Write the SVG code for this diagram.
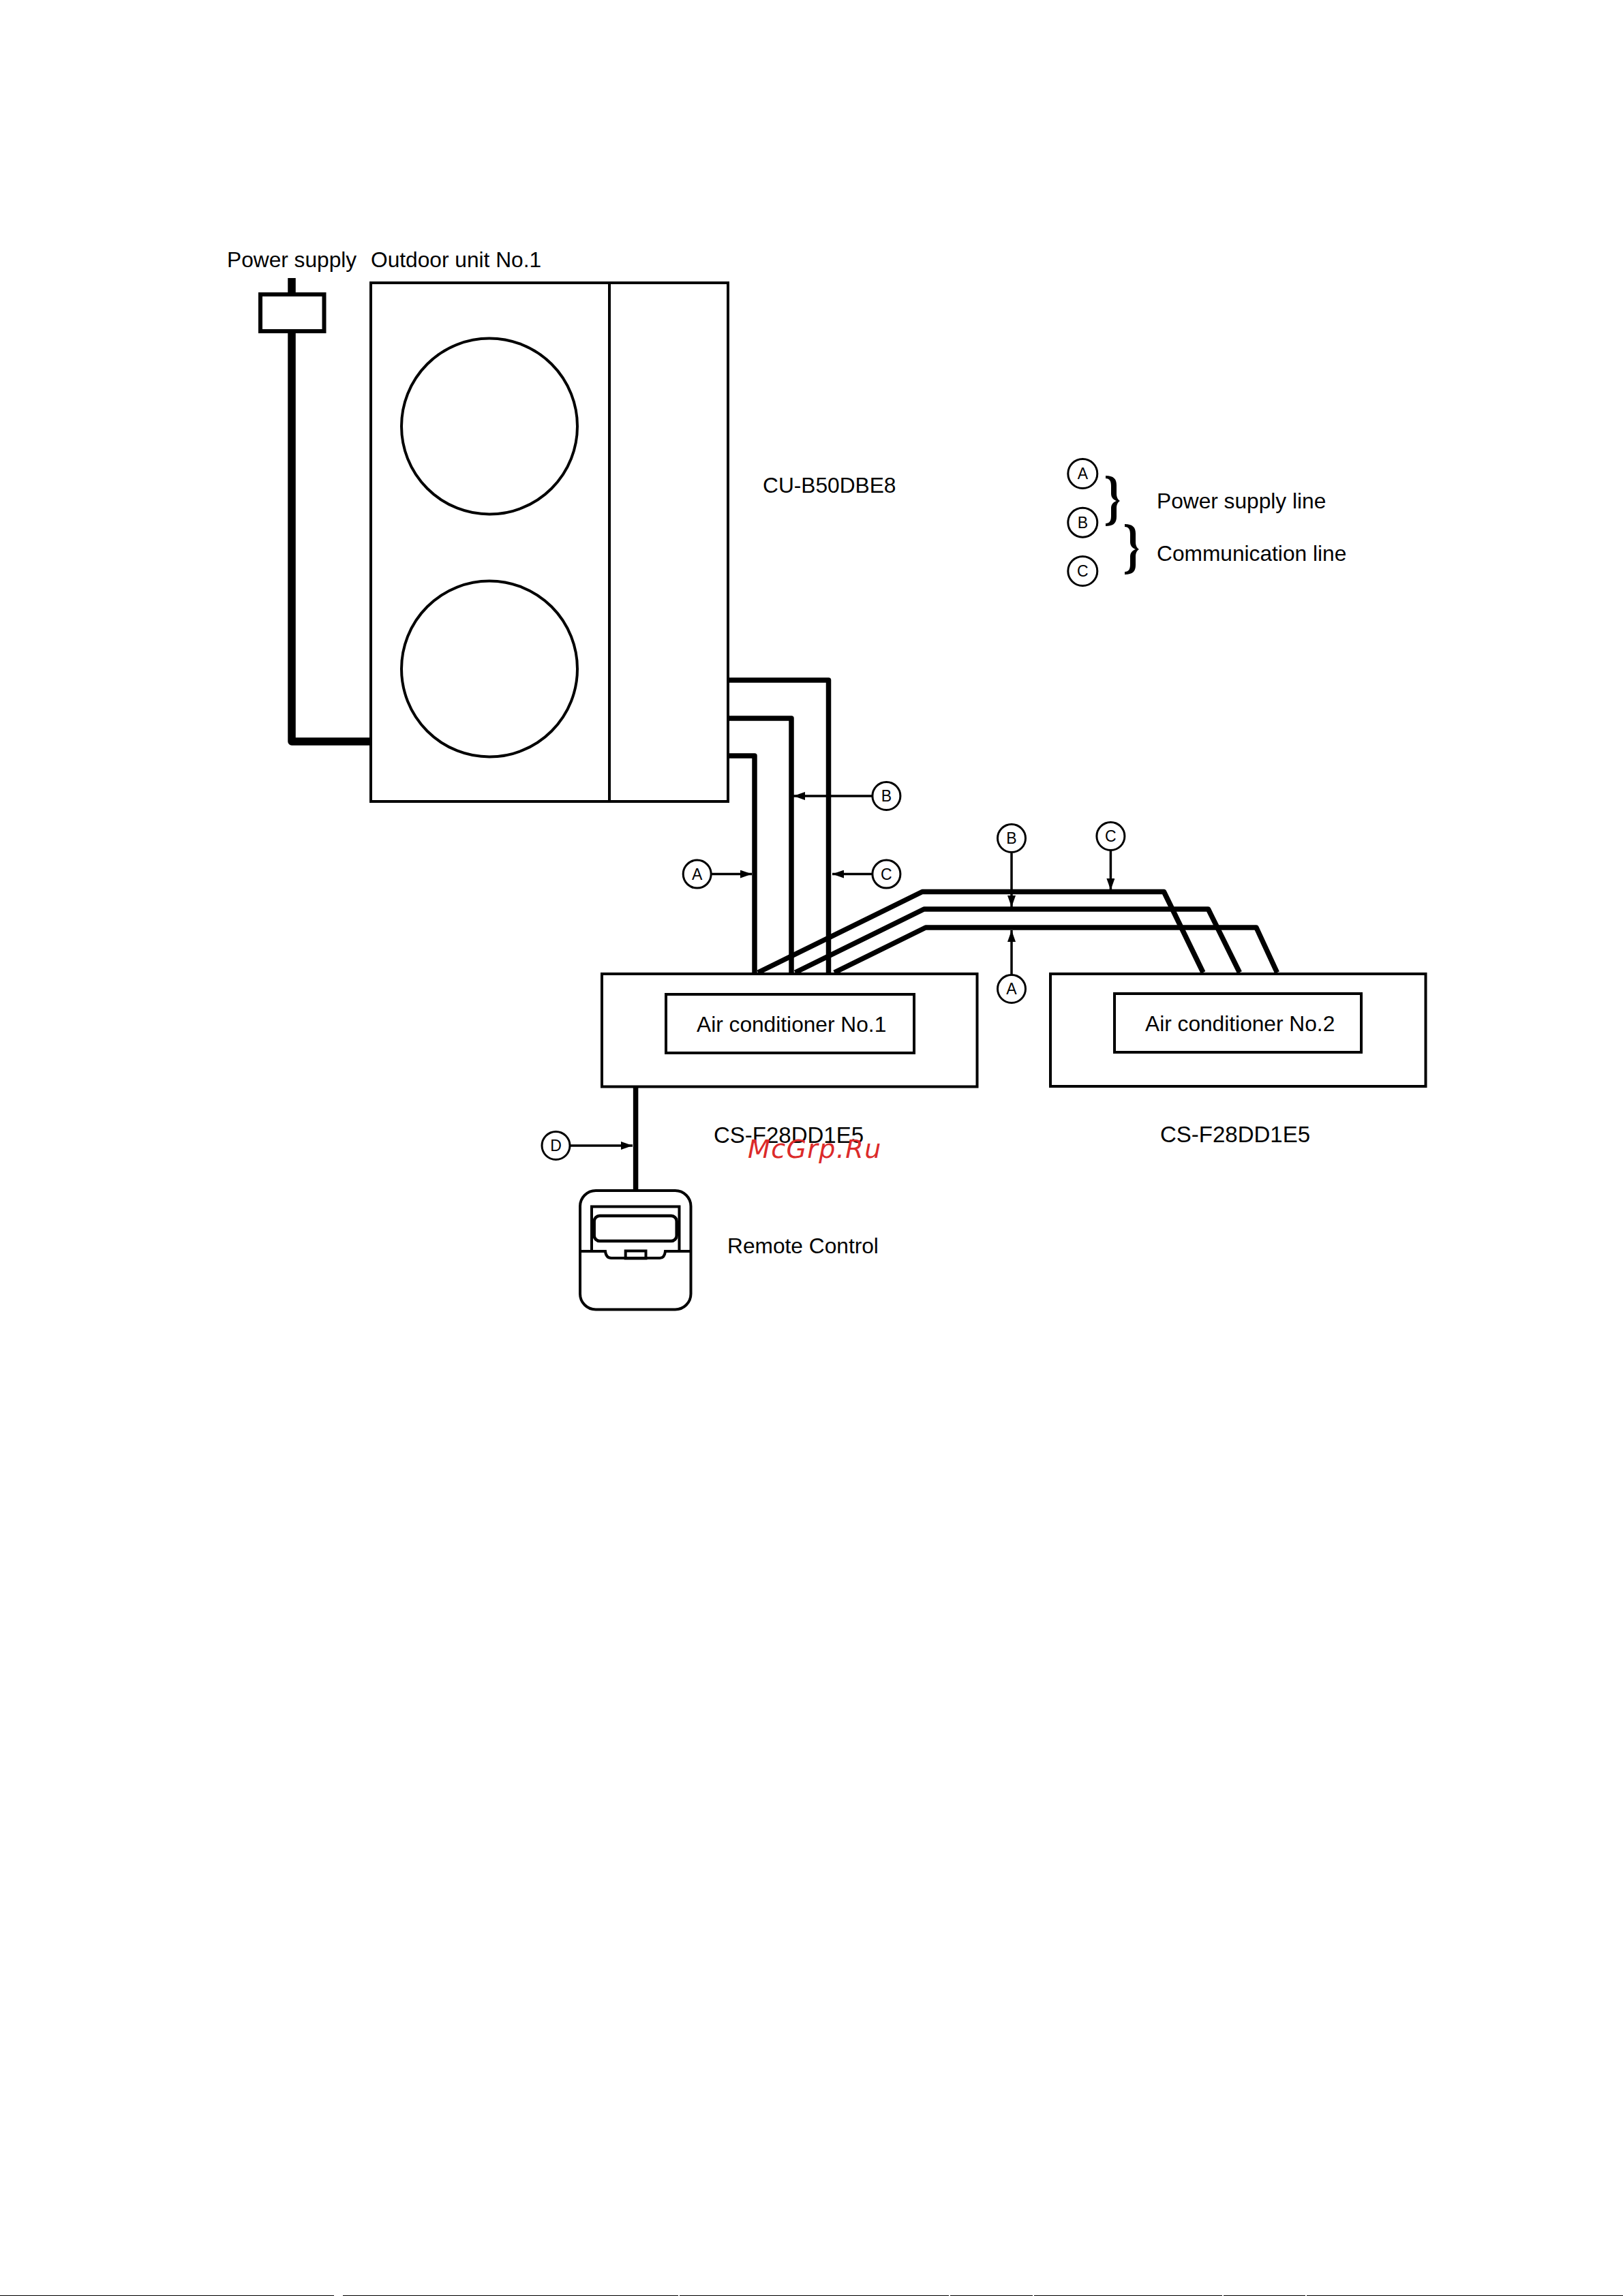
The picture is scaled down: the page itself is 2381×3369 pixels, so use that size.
<svg xmlns="http://www.w3.org/2000/svg" width="2381" height="3369" viewBox="0 0 2381 3369">
<style>
text{font-family:"Liberation Sans",Arial,sans-serif;font-size:31.7px;fill:#000}
.lbl{font-size:23px;text-anchor:middle}
.cs{font-size:33px}
.box{fill:#fff;stroke:#000;stroke-width:4}
.thin{fill:none;stroke:#000;stroke-width:4}
.wire{fill:none;stroke:#000;stroke-width:7.5;stroke-linejoin:round}
.lead{fill:none;stroke:#000;stroke-width:3.5;marker-end:url(#ah)}
.circ{fill:#fff;stroke:#000;stroke-width:3}
.wm{font-family:"DejaVu Sans",sans-serif;font-size:38px;font-style:italic;fill:#dc2a2a;letter-spacing:1.4px}
</style>
<defs>
<marker id="ah" markerUnits="userSpaceOnUse" markerWidth="17" markerHeight="12" refX="17" refY="6" orient="auto"><path d="M0 0L17 6L0 12Z" fill="#000"/></marker>
<path id="brace" d="M1622 698C1634 698 1638 703 1638 712V724C1638 730 1640 733 1643 735C1640 737 1638 740 1638 746V758C1638 767 1634 772 1622 772V768C1628 768 1630 764 1630 757V746C1630 740 1633 737 1638 735C1633 733 1630 730 1630 724V713C1630 706 1628 702 1622 702Z" fill="#000"/>
</defs>
<rect width="2381" height="3369" fill="#fff"/>
<g id="connectors">
<path class="wire" style="stroke-width:11.5" d="M428 408V1088H544"/>
<path class="wire" d="M1068 998H1215.5V1428"/>
<path class="wire" d="M1068 1054H1161V1428"/>
<path class="wire" d="M1068 1109H1107V1428"/>
<path class="wire" d="M1112 1427L1353 1308.5H1707.5L1765 1427"/>
<path class="wire" d="M1166.5 1427L1355.5 1334H1772.5L1818.5 1427"/>
<path class="wire" d="M1224 1427L1358 1361H1843L1873.5 1427"/>
<path class="wire" d="M932.6 1594V1746"/>
<path class="lead" d="M1280 1168H1164"/>
<path class="lead" d="M1280 1282.6H1221"/>
<path class="lead" d="M1043 1282.6H1103"/>
<path class="lead" d="M1484 1252V1331"/>
<path class="lead" d="M1629.4 1248V1306"/>
<path class="lead" d="M1484 1430V1365"/>
<path class="lead" d="M836 1681H928"/>
</g>
<g id="power-supply">
<text x="333" y="392">Power supply</text>
<rect x="382" y="432" width="93.5" height="54" fill="#fff" stroke="#000" stroke-width="6"/>
</g>
<g id="outdoor-unit">
<text x="544" y="392">Outdoor unit No.1</text>
<rect class="thin" x="544" y="415" width="524" height="761"/>
<path class="thin" d="M894 415V1176"/>
<circle class="thin" cx="718" cy="625.5" r="129"/>
<circle class="thin" cx="718" cy="981.5" r="129"/>
<text x="1119" y="723">CU-B50DBE8</text>
</g>
<g id="air-conditioner-1">
<rect class="box" x="883" y="1429" width="550.5" height="165.5"/>
<rect class="box" x="977" y="1459" width="364" height="86"/>
<text x="1022" y="1514">Air conditioner No.1</text>
<text class="cs" x="1047" y="1677">CS-F28DD1E5</text>
</g>
<g id="air-conditioner-2">
<rect class="box" x="1541" y="1429" width="550.5" height="165"/>
<rect class="box" x="1635" y="1458" width="362" height="86"/>
<text x="1680" y="1513">Air conditioner No.2</text>
<text class="cs" x="1702" y="1676">CS-F28DD1E5</text>
</g>
<g id="remote-control">
<rect class="thin" x="851" y="1747" width="162.5" height="174.5" rx="23"/>
<path class="thin" d="M868 1836V1770.4H996.5V1836"/>
<rect fill="none" stroke="#000" stroke-width="4.5" x="871.7" y="1784" width="121" height="37" rx="8"/>
<path class="thin" d="M852 1836H888Q889 1846 897 1846H968Q975 1846 976 1836H1012.6"/>
<rect class="thin" x="917.7" y="1835.5" width="29.8" height="11"/>
<text x="1067" y="1839">Remote Control</text>
</g>
<g id="callouts">
<g id="callout-b1"><circle class="circ" cx="1300.4" cy="1168" r="20.5"/><text class="lbl" x="1300.4" y="1176">B</text></g>
<g id="callout-c1"><circle class="circ" cx="1300.4" cy="1282.6" r="20.5"/><text class="lbl" x="1300.4" y="1290.6">C</text></g>
<g id="callout-a1"><circle class="circ" cx="1022.7" cy="1282.6" r="20.5"/><text class="lbl" x="1022.7" y="1290.6">A</text></g>
<g id="callout-b2"><circle class="circ" cx="1484" cy="1230" r="20.5"/><text class="lbl" x="1484" y="1238">B</text></g>
<g id="callout-c2"><circle class="circ" cx="1629.4" cy="1227" r="20.5"/><text class="lbl" x="1629.4" y="1235">C</text></g>
<g id="callout-a2"><circle class="circ" cx="1484" cy="1451" r="20.5"/><text class="lbl" x="1484" y="1459">A</text></g>
<g id="callout-d"><circle class="circ" cx="815.5" cy="1681" r="20.5"/><text class="lbl" x="815.5" y="1689">D</text></g>
</g>
<g id="legend">
<circle class="circ" cx="1588.3" cy="695" r="21.5"/><text class="lbl" x="1588.3" y="703">A</text>
<circle class="circ" cx="1588.3" cy="766.7" r="21.5"/><text class="lbl" x="1588.3" y="774.7">B</text>
<circle class="circ" cx="1588.3" cy="838" r="21.5"/><text class="lbl" x="1588.3" y="846">C</text>
<use href="#brace"/>
<use href="#brace" x="28" y="71"/>
<text x="1697" y="746">Power supply line</text>
<text x="1697" y="823">Communication line</text>
</g>
<text class="wm" x="1097" y="1699">McGrp.Ru</text>
<path d="M0 3368.5H490M503 3368.5H995M997 3368.5H1392M1394 3368.5H1515M1517 3368.5H1793M1795 3368.5H1915M1917 3368.5H2381" stroke="#000" stroke-width="1" fill="none"/>
</svg>
